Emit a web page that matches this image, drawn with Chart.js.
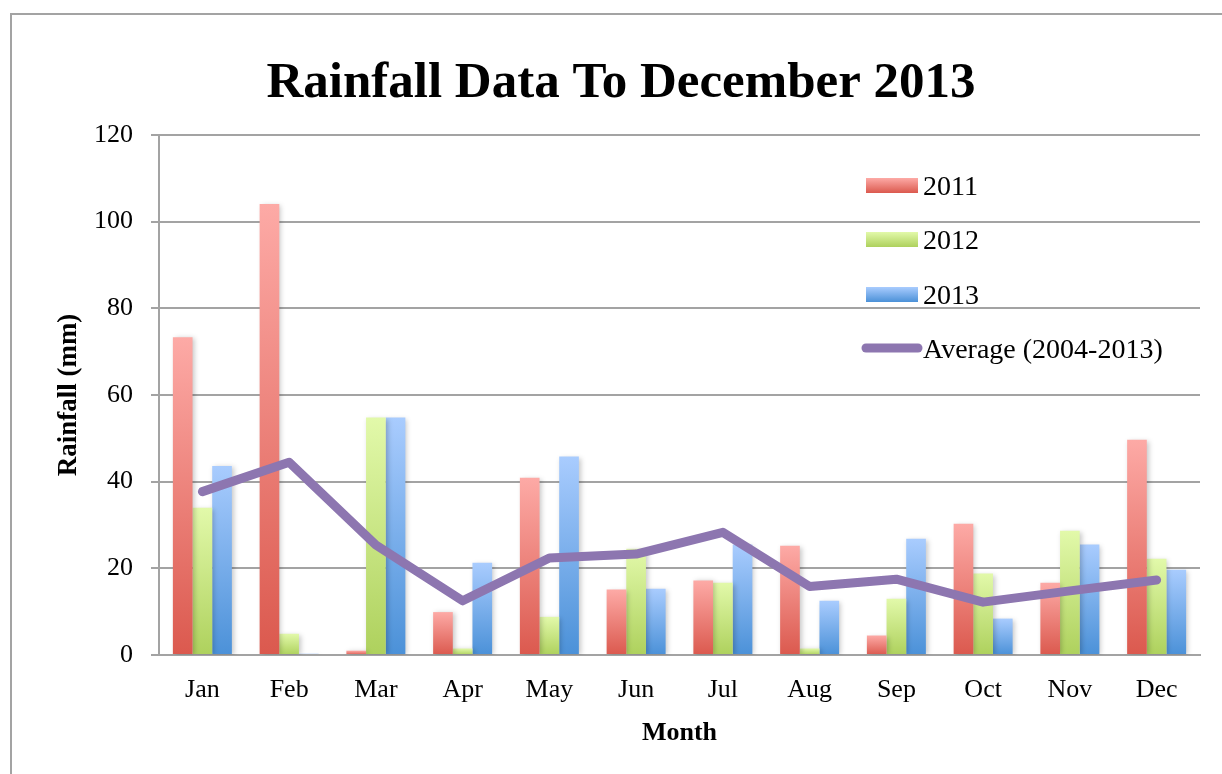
<!DOCTYPE html>
<html>
<head>
<meta charset="utf-8">
<script src="https://cdn.jsdelivr.net/npm/chart.js@4.4.1/dist/chart.umd.min.js"></script>
<style>
    html, body { margin: 0; padding: 0; background: #fff; }
    #wrap { width: 1222px; height: 774px; position: relative; }
</style>
</head>
<body>
<div id="wrap"><canvas id="rainChart"></canvas></div>
<script>
const months = ['Jan', 'Feb', 'Mar', 'Apr', 'May', 'Jun', 'Jul', 'Aug', 'Sep', 'Oct', 'Nov', 'Dec'];
const rain2011 = [73.3, 104.1, 1.0, 9.9, 40.9, 15.1, 17.2, 25.2, 4.5, 30.3, 16.7, 49.7];
const rain2012 = [34.0, 4.9, 54.8, 1.5, 8.8, 24.5, 16.7, 1.5, 13.0, 18.8, 28.7, 22.2];
const rain2013 = [43.6, 0.3, 54.8, 21.3, 45.8, 15.3, 25.5, 12.5, 26.8, 8.4, 25.5, 19.7];
const averageRain = [37.7, 44.5, 25.4, 12.5, 22.4, 23.3, 28.3, 15.8, 17.5, 12.2, 14.8, 17.3];
const yTicks = [0, 20, 40, 60, 80, 100, 120];

const FONT = '"Liberation Serif", "Times New Roman", serif';
const GRID = '#a3a3a3';

// light at the top, darker at the base, like the Excel bar fill
const fills = {
    red: ['#fdaaa6', '#db594e'],
    green: ['#e2f9aa', '#aed15d'],
    blue: ['#a9ccfe', '#4b91d8']
};

function barGradient(pair) {
    return function (context) {
        const chart = context.chart;
        if (!chart.chartArea || context.parsed === undefined) return pair[1];
        const y = chart.scales.y;
        const top = y.getPixelForValue(context.parsed.y);
        const base = y.getPixelForValue(0);
        if (!isFinite(top) || base - top < 1) return pair[1];
        const g = chart.ctx.createLinearGradient(0, top, 0, base);
        g.addColorStop(0, pair[0]);
        g.addColorStop(1, pair[1]);
        return g;
    };
}

const framePlugin = {
    id: 'frame',
    beforeDraw(chart) {
        const ctx = chart.ctx;
        ctx.save();
        ctx.fillStyle = '#fff';
        ctx.fillRect(0, 0, chart.width, chart.height);
        ctx.strokeStyle = GRID;
        ctx.lineWidth = 2;
        ctx.strokeRect(11, 14, chart.width + 20, chart.height + 20);
        ctx.restore();
    },
    // soft drop shadow on the bars only
    beforeDatasetDraw(chart, args) {
        if (chart.data.datasets[args.index].type !== 'bar') return;
        const ctx = chart.ctx;
        ctx.save();
        ctx.shadowColor = 'rgba(0, 0, 0, 0.22)';
        ctx.shadowBlur = 5;
        ctx.shadowOffsetX = 2;
        ctx.shadowOffsetY = 1;
    },
    afterDatasetDraw(chart, args) {
        if (chart.data.datasets[args.index].type !== 'bar') return;
        chart.ctx.restore();
    },
    afterDraw(chart) {
        const ctx = chart.ctx;
        ctx.save();
        // title
        ctx.fillStyle = '#000';
        ctx.font = 'bold 51px ' + FONT;
        ctx.textAlign = 'center';
        ctx.textBaseline = 'alphabetic';
        ctx.fillText('Rainfall Data To December 2013', 621, 97);

        // legend, inside the plot at the upper right
        const rows = [188, 242, 297, 351];
        ctx.font = '28px ' + FONT;
        ctx.textAlign = 'left';
        ctx.textBaseline = 'middle';
        chart.data.datasets.forEach((ds, i) => {
            const cy = rows[i];
            if (ds.type === 'line') {
                ctx.strokeStyle = ds.borderColor;
                ctx.lineWidth = 9;
                ctx.lineCap = 'round';
                ctx.beginPath();
                ctx.moveTo(866, cy - 3);
                ctx.lineTo(918, cy - 3);
                ctx.stroke();
            } else {
                const g = ctx.createLinearGradient(0, cy - 10, 0, cy + 5);
                g.addColorStop(0, ds.swatch[0]);
                g.addColorStop(1, ds.swatch[1]);
                ctx.fillStyle = g;
                ctx.fillRect(866, cy - 10, 52, 15);
            }
            ctx.fillStyle = '#000';
            ctx.fillText(ds.label, 923, cy);
        });
        ctx.restore();
    }
};

const rainCtx = document.getElementById('rainChart').getContext('2d');
new Chart(rainCtx, {
    data: {
        labels: months,
        datasets: [
            { type: 'bar', label: '2011', data: rain2011, backgroundColor: barGradient(fills.red), swatch: fills.red, order: 1 },
            { type: 'bar', label: '2012', data: rain2012, backgroundColor: barGradient(fills.green), swatch: fills.green, order: 1 },
            { type: 'bar', label: '2013', data: rain2013, backgroundColor: barGradient(fills.blue), swatch: fills.blue, order: 1 },
            {
                type: 'line',
                label: 'Average (2004-2013)',
                data: averageRain,
                borderColor: '#8d76b0',
                borderWidth: 9,
                borderCapStyle: 'round',
                borderJoinStyle: 'round',
                pointRadius: 0,
                tension: 0,
                fill: false,
                order: 0
            }
        ]
    },
    options: {
        responsive: true,
        maintainAspectRatio: false,
        animation: false,
        layout: { padding: { top: 135, right: 22, bottom: 0, left: 0 } },
        datasets: {
            bar: { categoryPercentage: 0.68, barPercentage: 1.0, borderWidth: 0 }
        },
        plugins: {
            legend: { display: false },
            title: { display: false },
            tooltip: { enabled: false }
        },
        scales: {
            x: {
                grid: { display: false, drawTicks: false },
                border: { display: true, color: GRID, width: 2 },
                ticks: { color: '#000', font: { family: FONT, size: 26 }, padding: 20 },
                title: {
                    display: true,
                    text: 'Month',
                    color: '#000',
                    font: { family: FONT, size: 26, weight: 'bold', lineHeight: 1 },
                    padding: { top: 0, bottom: 28 }
                },
                afterFit(scale) { scale.height = 119; }
            },
            y: {
                min: 0,
                max: 120,
                afterBuildTicks(scale) { scale.ticks = yTicks.map(v => ({ value: v })); },
                grid: { color: GRID, lineWidth: 2, tickLength: 8, drawTicks: true },
                border: { display: true, color: GRID, width: 2 },
                ticks: { color: '#000', font: { family: FONT, size: 26 }, padding: 18 },
                title: {
                    display: true,
                    text: 'Rainfall (mm)',
                    color: '#000',
                    font: { family: FONT, size: 27, weight: 'bold', lineHeight: 1 },
                    padding: { top: 56, bottom: 0 }
                },
                afterFit(scale) { scale.width = 159; }
            }
        }
    },
    plugins: [framePlugin]
});
</script>
</body>
</html>
